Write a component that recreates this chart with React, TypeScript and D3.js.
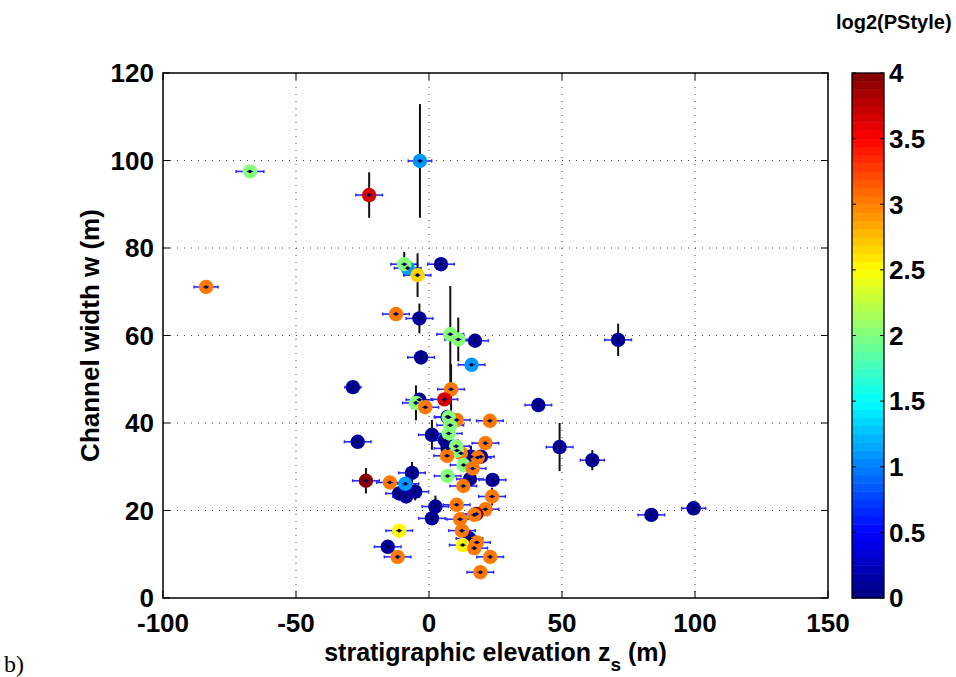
import React from "react";
import * as d3 from "d3";

// ---- data ----
const zs: number[] = [
  // dark blue group first (drawn underneath)
  4.5, -3.6, 17.3, -3.0, -28.6, -3.6, 7.0, 1.1, 6.0, 7.0, 15.8, 19.5, 15.4, 23.9, -6.4, -11.2, -5.2, -8.6, -26.8, 2.4, 1.1, 15.2, -15.5, 41.1, 49.1, 61.4, 71.1, 83.6, 99.5,
  // others
  -67.3, -22.5, -3.4, -83.8, -8.0, -9.3, -4.3, -12.4, 8.0, 11.0, 16.0, -4.9, -1.4, 8.3, 5.8, 10.4, 7.4, 22.9, 8.0, 7.4, 21.2, 12.0, 10.2, 10.5, 6.8, 18.3, 13.0, 16.4, 7.0, 12.9, 23.7, -8.9, -14.7, -23.7, 10.4, 21.2, 17.8, 17.0, 11.7, 12.4, -11.2, 12.7, 18.0, 17.0, 23.0, 19.3, -11.8,
];
const widths: number[] = [
  76.3, 63.9, 58.8, 55.0, 48.2, 45.3, 41.4, 37.3, 36.0, 34.2, 32.3, 32.3, 27.2, 27.0, 28.6, 23.9, 24.3, 23.2, 35.7, 20.9, 18.2, 13.6, 11.7, 44.1, 34.5, 31.5, 59.0, 19.0, 20.5,
  97.5, 92.1, 99.9, 71.1, 75.4, 76.3, 73.8, 64.9, 60.3, 59.1, 53.3, 44.6, 43.6, 47.7, 45.4, 40.7, 41.3, 40.5, 39.5, 37.6, 35.4, 33.1, 34.7, 33.7, 32.5, 32.1, 30.4, 29.6, 27.9, 25.6, 23.2, 26.1, 26.4, 26.8, 21.3, 20.3, 19.2, 19.0, 18.0, 15.4, 15.4, 12.1, 12.7, 11.4, 9.4, 5.9, 9.4,
];
const log2PStyle: number[] = [
  0.1, 0.1, 0.1, 0.1, 0.1, 0.1, 0.1, 0.1, 0.1, 0.1, 0.1, 0.1, 0.1, 0.1, 0.1, 0.1, 0.1, 0.1, 0.1, 0.1, 0.1, 0.1, 0.1, 0.1, 0.1, 0.1, 0.1, 0.1, 0.1,
  2.0, 3.65, 1.1, 3.0, 1.1, 2.0, 2.65, 3.0, 2.0, 2.0, 1.1, 2.0, 3.0, 3.0, 3.65, 3.0, 2.0, 3.0, 2.0, 2.0, 3.0, 3.0, 2.0, 2.0, 3.0, 3.0, 2.0, 3.0, 2.0, 3.0, 3.0, 1.1, 3.0, 4.0, 3.0, 3.0, 4.0, 3.0, 3.0, 3.0, 2.5, 2.5, 3.0, 3.0, 3.0, 3.0, 3.0,
];
const zsErr: number[] = [
  5, 5, 5, 5, 3, 5, 5, 5, 5, 5, 5, 5, 5, 5, 5, 5, 5, 5, 5, 5, 5, 5, 5, 5, 5, 4.5, 5, 5, 4.5,
  5.2, 5, 4.4, 4.5, 5, 5, 5, 5, 5, 5, 5, 5, 5, 5, 5, 5, 5, 5, 5, 5, 5, 5, 5, 5, 5, 5, 5, 5, 5, 5, 5, 5, 5, 5, 5, 5, 5, 5, 5, 5, 5, 5, 5, 5, 5, 5, 5,
];
const widthErr: number[] = [
  0, 3.4, 0, 1.6, 0, 0, 0, 3.4, 0, 0, 2.5, 0, 0, 0, 2.5, 0, 2.0, 0, 0, 2.5, 0, 2.0, 0, 0, 5.5, 2.3, 3.7, 0, 0,
  0, 5.2, 13, 0, 0, 2.8, 5, 1.5, 11, 5, 0, 4, 0, 5.7, 0, 0, 0, 0, 0, 0, 0, 0, 0, 0, 0, 0, 0, 0, 0, 0, 2.0, 0, 0, 2.9, 0, 0, 0, 0, 0, 0, 0, 0, 0, 0, 0, 0, 0,
];

const xTicks: number[] = [-100, -50, 0, 50, 100, 150];
const yTicks: number[] = [0, 20, 40, 60, 80, 100, 120];
const cTicks: number[] = [0, 0.5, 1, 1.5, 2, 2.5, 3, 3.5, 4];

// ---- jet colormap (MATLAB style, 64 levels) ----
function jet(t: number): string {
  const cl = (v: number) => Math.max(0, Math.min(1, v));
  const r = cl(1.5 - Math.abs(4 * t - 3));
  const g = cl(1.5 - Math.abs(4 * t - 2));
  const b = cl(1.5 - Math.abs(4 * t - 1));
  return d3.rgb(r * 255, g * 255, b * 255).formatHex();
}
const NLEV = 64;
const levelColors = d3.range(NLEV).map((i) => jet((i + 0.5) / NLEV));
const colorScale = d3
  .scaleQuantize<string>()
  .domain([0, 4])
  .range(levelColors);

const FONT = "Liberation Sans, Arial, Helvetica, sans-serif";

export default function App() {
  const W = 956;
  const H = 677;
  const left = 163, right = 828, top = 73, bottom = 598;
  const x = d3.scaleLinear().domain([-100, 150]).range([left, right]);
  const y = d3.scaleLinear().domain([0, 120]).range([bottom, top]);
  const cbL = 852, cbR = 884;
  const cy = d3.scaleLinear().domain([0, 4]).range([bottom, top]);
  const tickLen = 7;
  const n = zs.length;
  const idx = d3.range(n);
  const tickFs = 26;

  return (
    <svg width={W} height={H} style={{ position: "absolute", left: 0, top: 0, background: "#fff" }}>
      <rect x={0} y={0} width={W} height={H} fill="#fff" />
      {/* grid */}
      {xTicks.slice(1, -1).map((t) => (
        <line key={"gx" + t} x1={x(t)} x2={x(t)} y1={top} y2={bottom} stroke="#444" strokeWidth={1} strokeDasharray="1,6" />
      ))}
      {yTicks.slice(1, -1).map((t) => (
        <line key={"gy" + t} x1={left} x2={right} y1={y(t)} y2={y(t)} stroke="#444" strokeWidth={1} strokeDasharray="1,6" />
      ))}
      {/* error bars */}
      {idx.map((i) => {
        const cx = x(zs[i]);
        const cyy = y(widths[i]);
        const x0 = x(zs[i] - zsErr[i]);
        const x1 = x(zs[i] + zsErr[i]);
        return (
          <g key={"eb" + i}>
            <line x1={x0} x2={x1} y1={cyy} y2={cyy} stroke="#2a2aff" strokeWidth={1.6} />
            <line x1={x0} x2={x0} y1={cyy - 1.5} y2={cyy + 1.5} stroke="#2a2aff" strokeWidth={1.5} />
            <line x1={x1} x2={x1} y1={cyy - 1.5} y2={cyy + 1.5} stroke="#2a2aff" strokeWidth={1.5} />
            {widthErr[i] > 0 && (
              <line x1={cx} x2={cx} y1={y(widths[i] - widthErr[i])} y2={y(widths[i] + widthErr[i])} stroke="#111" strokeWidth={2} />
            )}
          </g>
        );
      })}
      {/* markers */}
      {idx.map((i) => (
        <circle key={"m" + i} cx={x(zs[i])} cy={y(widths[i])} r={7.2} fill={colorScale(log2PStyle[i])} />
      ))}
      {idx.map((i) => (
        <g key={"c" + i}>
          <line x1={x(zs[i]) - 3} x2={x(zs[i]) + 3} y1={y(widths[i])} y2={y(widths[i])} stroke="#1010c0" strokeWidth={1} />
          <circle cx={x(zs[i])} cy={y(widths[i])} r={1.8} fill="#000040" />
        </g>
      ))}
      {/* axes box */}
      <rect x={left} y={top} width={right - left} height={bottom - top} fill="none" stroke="#000" strokeWidth={1.5} />
      {xTicks.map((t) => (
        <g key={"xt" + t}>
          <line x1={x(t)} x2={x(t)} y1={bottom} y2={bottom - tickLen} stroke="#000" strokeWidth={1} />
          <line x1={x(t)} x2={x(t)} y1={top} y2={top + tickLen} stroke="#000" strokeWidth={1} />
          <text x={x(t)} y={632} textAnchor="middle" fontFamily={FONT} fontWeight="bold" fontSize={tickFs} fill="#000">
            {t}
          </text>
        </g>
      ))}
      {yTicks.map((t) => (
        <g key={"yt" + t}>
          <line x1={left} x2={left + tickLen} y1={y(t)} y2={y(t)} stroke="#000" strokeWidth={1} />
          <line x1={right} x2={right - tickLen} y1={y(t)} y2={y(t)} stroke="#000" strokeWidth={1} />
          <text x={154} y={y(t)} dy="0.36em" textAnchor="end" fontFamily={FONT} fontWeight="bold" fontSize={tickFs} fill="#000">
            {t}
          </text>
        </g>
      ))}
      {/* axis labels */}
      <text
        transform={`translate(99,${(top + bottom) / 2}) rotate(-90)`}
        textAnchor="middle"
        fontFamily={FONT}
        fontWeight="bold"
        fontSize={26}
        fill="#000"
      >
        Channel width w (m)
      </text>
      <text x={(left + right) / 2} y={661} textAnchor="middle" fontFamily={FONT} fontWeight="bold" fontSize={25} fill="#000">
        stratigraphic elevation z
        <tspan dy={10} fontSize={19}>s</tspan>
        <tspan dy={-10}> (m)</tspan>
      </text>
      {/* colorbar */}
      {levelColors.map((c, i) => {
        const v0 = (i / NLEV) * 4;
        const v1 = ((i + 1) / NLEV) * 4;
        return <rect key={"cb" + i} x={cbL} width={cbR - cbL} y={cy(v1)} height={cy(v0) - cy(v1) + 0.5} fill={c} />;
      })}
      <rect x={cbL} y={top} width={cbR - cbL} height={bottom - top} fill="none" stroke="#000" strokeWidth={1.3} />
      {cTicks.map((t) => (
        <g key={"ct" + t}>
          <line x1={cbL} x2={cbL + 4} y1={cy(t)} y2={cy(t)} stroke="#000" strokeWidth={1} />
          <line x1={cbR} x2={cbR - 4} y1={cy(t)} y2={cy(t)} stroke="#000" strokeWidth={1} />
          <text x={889} y={cy(t)} dy="0.36em" textAnchor="start" fontFamily={FONT} fontWeight="bold" fontSize={tickFs} fill="#000">
            {t}
          </text>
        </g>
      ))}
      <text x={836} y={29} fontFamily={FONT} fontWeight="bold" fontSize={20} fill="#000">
        log2(PStyle)
      </text>
      <text x={4} y={672} fontFamily="Liberation Serif, Times New Roman, serif" fontSize={24} fill="#000">
        b)
      </text>
    </svg>
  );
}
